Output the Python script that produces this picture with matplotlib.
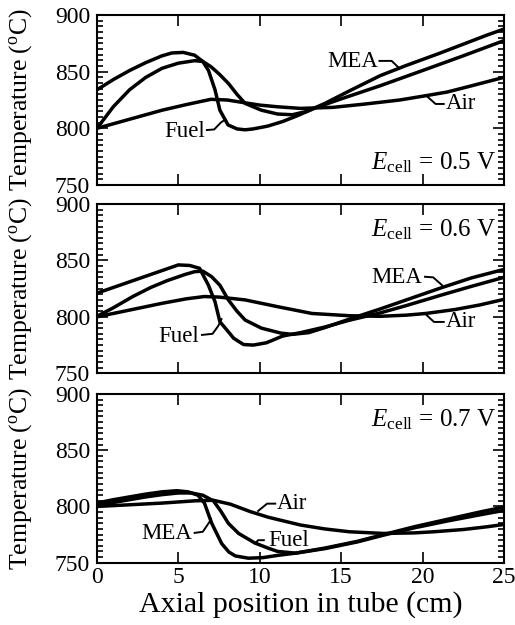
import numpy as np
import matplotlib
matplotlib.use('Agg')
import matplotlib.pyplot as plt
from matplotlib.ticker import MultipleLocator

plt.rcParams['font.family'] = ['Liberation Serif', 'DejaVu Serif']
plt.rcParams['mathtext.fontset'] = 'custom'
plt.rcParams['mathtext.rm'] = 'Liberation Serif'
plt.rcParams['mathtext.it'] = 'Liberation Serif:italic'

# ---- E_cell = 0.5 V ----
fuel05_x = [0, 1, 2, 3, 4, 4.6, 5.3, 6.0, 6.5, 6.85, 7.25, 7.55, 8.05, 8.6, 9.1, 9.6, 10.5, 11.4, 12.2, 13.4, 15, 17.4, 20, 22.5, 25]
fuel05_t = [834, 843, 851, 858, 864, 866.5, 867, 864.5, 859, 851, 834, 816, 803, 799.5, 798.7, 799.5, 802, 806, 810.5, 818, 826, 837.6, 851, 864, 877.4]
mea05_x = [0, 1, 2, 3, 4, 5, 6, 6.5, 7, 7.5, 8.07, 8.6, 9.1, 10.1, 11.1, 12, 12.9, 14, 15.5, 17.4, 19, 21, 23, 24, 25]
mea05_t = [800, 819, 834, 845, 853, 857.5, 859.7, 859, 854.4, 848, 839.7, 830, 822, 816, 812.6, 812, 815, 822, 833, 846.5, 855.5, 866, 877, 882.5, 887.6]
air05_x = [0, 2, 4, 5.5, 7, 8, 9.1, 10, 11.1, 12.5, 14.5, 16.5, 17.4, 18.6, 20.2, 21.5, 23, 25]
air05_t = [800, 808, 816, 821, 825.6, 825, 822.5, 820.5, 819, 817.6, 818.5, 821.5, 823, 825, 828.8, 832, 837.5, 845]

# ---- E_cell = 0.6 V ----
fuel06_x = [0, 1, 2, 3, 4, 5, 5.7, 6.3, 6.84, 7.25, 7.55, 8.0, 8.4, 9.0, 9.6, 10.4, 11.4, 12.5, 14, 15.5, 17.4, 19, 21.2, 23, 25]
fuel06_t = [821, 826, 831, 836, 841, 846, 845.5, 843, 828.2, 813.4, 795.7, 788, 781, 775.5, 775, 777, 783, 786, 791, 797, 803.5, 810, 819.5, 827, 835]
mea06_x = [0, 1, 2.2, 3.3, 4.3, 5.4, 6.0, 6.5, 7.04, 7.55, 8.07, 8.6, 9.1, 10.1, 11.3, 12, 13, 14, 15.5, 17.4, 19, 21.2, 23, 25]
mea06_t = [800.5, 808, 818, 826, 832, 837.5, 840, 840.5, 835.6, 828, 815, 805, 797.2, 790, 785.6, 784.5, 786, 790.5, 798, 807, 815, 826, 834.5, 842]
air06_x = [0, 2, 4, 5.5, 6.6, 7.5, 9.1, 11.1, 13.2, 15.5, 17.4, 19, 20.2, 22, 23.5, 25]
air06_t = [800, 806, 812, 816, 818, 817.5, 815, 809, 803, 801, 800.5, 801.5, 803, 806.5, 810.5, 815.5]

# ---- E_cell = 0.7 V ----
mea07_x = [0, 1, 2, 3, 4, 4.9, 5.6, 6.2, 6.6, 7.05, 7.66, 8.1, 8.5, 9.3, 10.2, 11.1, 12.2, 14, 16, 17.6, 19.5, 21.5, 23.5, 25]
mea07_t = [803, 806, 808.5, 811, 813, 814, 813, 810, 803, 785, 767, 759.5, 756, 754, 754.5, 756.5, 758.5, 763, 769, 775, 782, 788.5, 795, 799.5]
fuel07_x = [0, 1, 2, 3, 4, 5, 5.8, 6.5, 7.15, 7.6, 8.07, 8.7, 9.7, 10.5, 11.1, 12.2, 14, 16, 17.6, 19.5, 21.5, 23.5, 25]
fuel07_t = [801, 803.5, 806, 808.5, 810.5, 812, 812, 810, 805, 796, 785, 776, 767.5, 763, 760, 758.5, 762.5, 768.5, 774.5, 781, 787, 792.5, 796.5]
air07_x = [0, 2, 4, 6, 7.15, 8.2, 9.4, 10.5, 12.5, 14, 15.5, 17.6, 19.5, 20.7, 22.5, 24, 25]
air07_t = [800, 801.5, 803, 805, 805.5, 802, 795.5, 790.5, 783.5, 780, 777.5, 776, 776.5, 777.5, 779.5, 782, 784]

panels = [
    {'ecell': '0.5', 'lines': [(fuel05_x, fuel05_t), (mea05_x, mea05_t), (air05_x, air05_t)],
     'etext_y': 770,
     'labels': [('MEA', (15.7, 859), [(17.35, 859.5), (18.1, 859.5), (18.5, 854)]),
                ('Air', (22.35, 821.5), [(21.3, 821.5), (20.8, 821.5), (20.25, 828.5)]),
                ('Fuel', (5.4, 797.5), [(6.75, 798.5), (7.2, 799), (7.6, 805), (7.9, 808)])]},
    {'ecell': '0.6', 'lines': [(fuel06_x, fuel06_t), (mea06_x, mea06_t), (air06_x, air06_t)],
     'etext_y': 877,
     'labels': [('MEA', (18.4, 834.5), [(20.15, 835.5), (20.65, 835), (21.2, 828)]),
                ('Air', (22.35, 795.5), [(21.3, 795.5), (20.7, 795.5), (20.25, 801.5)]),
                ('Fuel', (5.0, 782.5), [(6.45, 784), (7.1, 785), (7.45, 792), (7.65, 798)])]},
    {'ecell': '0.7', 'lines': [(mea07_x, mea07_t), (fuel07_x, fuel07_t), (air07_x, air07_t)],
     'etext_y': 877,
     'labels': [('Air', (11.95, 802.5), [(10.95, 802.5), (10.45, 802.5), (9.9, 796)]),
                ('Fuel', (11.75, 770), [(10.25, 770), (9.9, 770), (9.7, 767)]),
                ('MEA', (4.27, 776), [(6.0, 776.5), (6.5, 777.5), (6.9, 786), (7.0, 789)])]},
]

fig = plt.figure(figsize=(5.15, 6.25), dpi=100)
boxes = [(0.1883, 0.704, 0.7903, 0.272),
         (0.1883, 0.4027, 0.7903, 0.271),
         (0.1883, 0.0997, 0.7903, 0.2699)]

for i, (p, box) in enumerate(zip(panels, boxes)):
    ax = fig.add_axes(box)
    for xs, ts in p['lines']:
        ax.plot(xs, ts, color='black', lw=2.5, solid_capstyle='butt')
    for name, (tx, ty), path in p['labels']:
        ax.text(tx, ty, name, ha='center', va='center', fontsize=16.5)
        px, py = zip(*path)
        ax.plot(px, py, color='black', lw=1.4)
    ax.text(24.55, p['etext_y'], r'$E_{\rm cell}$ = ' + p['ecell'] + ' V',
            ha='right', va='center', fontsize=18)
    ax.set_xlim(0, 25)
    ax.set_ylim(750, 900)
    ax.xaxis.set_major_locator(MultipleLocator(5))
    ax.yaxis.set_major_locator(MultipleLocator(50))
    ax.yaxis.set_minor_locator(MultipleLocator(5))
    ax.tick_params(which='both', direction='in', top=True, right=True, width=1.2)
    ax.tick_params(which='major', length=8, labelsize=17, pad=5)
    ax.tick_params(which='minor', length=4.5)
    for s in ax.spines.values():
        s.set_linewidth(1.5)
    ax.set_ylabel('Temperature ($^{\\rm o}$C)', fontsize=18.5)
    ax.yaxis.set_label_coords(-0.155, 0.5)
    if i < 2:
        ax.set_xticklabels([])
    else:
        ax.tick_params(axis='x', pad=3)
        ax.set_xlabel('Axial position in tube (cm)', fontsize=21.5, labelpad=2)

fig.savefig('out.png', dpi=100)
